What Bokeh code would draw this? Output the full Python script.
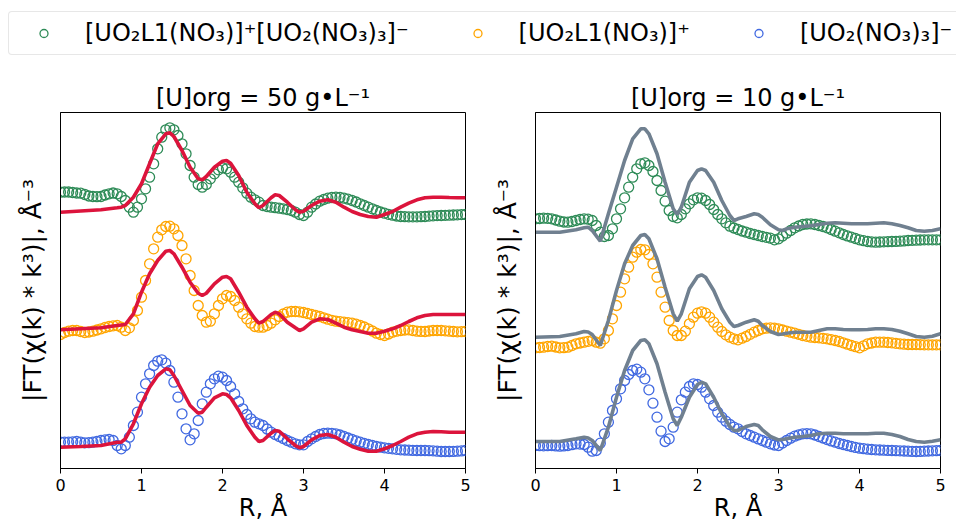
import numpy as np
from bokeh.plotting import figure
from bokeh.models import Range1d, Legend, LegendItem, FixedTicker
from bokeh.layouts import column, row
from bokeh.embed import file_html
from bokeh.resources import INLINE

FONT = "DejaVu Sans"

# ---------------- data (arbitrary units, curves offset vertically) ----------------
LABELS = ["[UO\u2082L1(NO\u2083)]\u207a[UO\u2082(NO\u2083)\u2083]\u207b",
          "[UO\u2082L1(NO\u2083)]\u207a",
          "[UO\u2082(NO\u2083)\u2083]\u207b"]
TITLES = ["[U]org = 50 g\u2022L\u207b\u00b9", "[U]org = 10 g\u2022L\u207b\u00b9"]
X_LABEL = "R, \u00c5"
Y_LABEL = "|FT(\u03c7(k) * k\u00b3)|, \u00c5\u207b\u00b3"
X_TICKS = [0, 1, 2, 3, 4, 5]

# experimental R grid (markers)
R = np.round(np.linspace(0, 5, 101), 2)

# left panel, 50 g/L : experiment
L_GREEN = [276.3, 276.5, 276.5, 276, 275.5, 275.3, 274, 272.5, 272, 271.8,
           272, 273.5, 274.7, 275.5, 274.7, 272, 268, 261.3, 256.3, 261.3,
           269.7, 279.7, 291.3, 304.7, 319.7, 331.3, 338.7, 340.7, 338.7, 333,
           324.7, 314.7, 303, 291.3, 284, 281.3, 284, 289.7, 294.7, 298.7,
           300.7, 299.7, 296.3, 291.3, 286.3, 280.7, 275.3, 271.3, 268.7, 266.3,
           263, 262, 261.3, 260.8, 260.3, 259.7, 259, 258, 256.3, 254,
           253, 256.3, 261.3, 264.5, 267.3, 269, 270.3, 271, 271.3, 271,
           270.3, 269.3, 268, 266.5, 264.7, 263, 261.3, 259.7, 258, 256.5,
           255.3, 254.2, 253.3, 252.5, 252, 251.8, 251.7, 251.7, 251.7, 251.8,
           252, 252.4, 252.7, 252.9, 253, 253.2, 253.3, 253.5, 253.7, 253.9, 254]
L_ORANGE = [134, 136, 137.3, 138, 138, 137, 136, 136.5, 137.3, 138.5,
            139.7, 141, 142, 142.7, 143, 141.3, 138, 140.7, 148, 158,
            171.3, 188, 204.7, 219.7, 231.3, 238.7, 242, 242.3, 239.7, 233,
            223, 209.7, 193, 178, 163, 153, 146.3, 147.3, 154.7, 163,
            169.7, 173, 172, 168, 161.3, 154.7, 149.7, 145.3, 142, 141.3,
            141.3, 143, 145.3, 148.7, 152, 154.5, 156.3, 157, 157, 156.7,
            156, 155, 154, 153, 152, 150.7, 149.3, 148.2, 147.3, 146.8,
            146.3, 145.8, 145.3, 144.3, 143, 141.5, 139.7, 137.5, 135.3, 134,
            133, 134.5, 136.3, 137.3, 138, 138.5, 138.7, 138, 137.3, 137.1,
            137, 137.5, 138, 138, 138, 137.7, 137.3, 137, 136.7, 136.8, 137]
L_BLUE = [26.3, 26.3, 26.3, 26.7, 27, 26.3, 25.7, 25.8, 26.3, 27,
          28, 28.7, 29, 28, 23, 19.7, 23, 31.3, 43, 56.3,
          71.3, 84.7, 94.7, 103, 107.3, 108.7, 105.3, 98, 86.3, 71.3,
          54.7, 39.7, 28.7, 34.7, 48, 64.7, 76.3, 84.7, 89.7, 92.3,
          91.3, 88, 82, 74.7, 67, 59.7, 54, 49.7, 46.3, 44.7,
          43, 39.5, 36.3, 34, 32, 30, 28, 26.3, 24.7, 23.7,
          23.7, 27, 29.7, 32, 34, 35, 35.3, 35.2, 34.7, 33.5,
          32, 30.5, 29, 27.6, 26.3, 25, 24, 23, 22, 21.3,
          20.7, 20.2, 19.7, 19.2, 18.7, 18.5, 18.3, 18.1, 18, 18,
          18, 17.8, 17.7, 17.3, 17, 17, 17, 17.1, 17.3, 17.6, 18]

# left panel : fits
L_FIT_R = [0, 0.25, 0.5, 0.7, 0.75, 0.8, 0.9, 1.0, 1.1, 1.2, 1.3, 1.35, 1.4,
           1.5, 1.6, 1.7, 1.75, 1.8, 1.9, 2.0, 2.05, 2.1,
           2.2, 2.3, 2.4, 2.45, 2.5, 2.6, 2.65, 2.7, 2.8, 2.9, 2.95, 3.0,
           3.1, 3.2, 3.3, 3.4, 3.5, 3.6, 3.7, 3.8, 3.9, 4.0,
           4.1, 4.2, 4.3, 4.4, 4.5, 4.6, 4.7, 4.8, 4.9, 5.0]
L_FIT_TOP = [256.3, 257.5, 258.7, 260.7, 261.3, 263, 271.3, 284.7, 304.7, 324.7, 334.7, 335.7, 332,
             318, 301.3, 289.7, 288.7, 292, 301.3, 307.3, 308, 305.3,
             293, 276.3, 264.7, 260.7, 263, 270.7, 273.7, 273, 266.3, 258.7, 256.3, 257.3,
             263, 267.3, 268.7, 266.3, 261.3, 257, 254, 252, 251.3, 254,
             257, 261.3, 265.3, 268.7, 270.7, 271.3, 271.3, 271, 270.8, 270.7]
L_FIT_MID = [138.7, 139.7, 140.7, 143, 143.5, 144, 154.7, 176.3, 194.7, 208, 217.3, 218, 214.7,
             201.3, 186.3, 175.3, 173, 175.3, 184.7, 191.3, 192, 189.7,
             176.3, 161.3, 149.7, 145.3, 147, 154, 156.3, 154.7, 146.3, 140.7, 138, 139.7,
             146.3, 149.7, 149, 145.3, 141.3, 138.7, 137, 135.3, 135.3, 137.3,
             139.7, 143, 147, 150.7, 153, 154, 154, 154, 154, 154]
L_FIT_BOT = [21.3, 22, 23, 26.3, 26.3, 29.7, 44.7, 64.7, 81.3, 93, 99.7, 98.7, 93,
             78, 63, 55.3, 56.3, 61.3, 70.7, 74.7, 74, 70.7,
             58, 43, 31.3, 27, 28, 35.3, 38, 37.3, 29.7, 23, 20.7, 22,
             28.7, 33, 34, 31.3, 26.3, 22, 19.3, 17.3, 17.3, 19.7,
             23, 27, 31.3, 34.7, 36.3, 37, 36.7, 36.3, 36.3, 36.3]

# right panel, 10 g/L : experiment
R_GREEN = [249.7, 250, 250.3, 250.2, 249.7, 248.5, 247.3, 246.5, 246.3, 247,
           248, 249, 249.7, 249.3, 248, 243, 236.3, 232, 233, 239.7,
           249.7, 259.7, 270.7, 281.3, 291.3, 299.7, 304.7, 305.7, 303, 297,
           288, 278, 267.3, 258, 252, 250.7, 254, 259.7, 264.7, 268.7,
           270.7, 270.3, 268, 264, 259, 254, 249.7, 245.7, 242.3, 240.5,
           239, 237.5, 236.3, 235, 234, 233, 232, 231.2, 230.3, 228.7,
           229.7, 232.5, 235.3, 238, 240.7, 242.5, 244, 244.5, 244.7, 244,
           243, 242, 240.7, 239, 237.3, 235.7, 234, 232.6, 231.3, 230,
           228.7, 227.8, 227, 226.6, 226.3, 226.5, 226.7, 226.8, 227, 227.1,
           227.3, 227.6, 228, 228.2, 228.3, 228.5, 228.7, 228.7, 228.7, 228.7, 228.7]
R_ORANGE = [120.7, 121, 121.3, 122, 122.3, 121.5, 120.7, 120.8, 121.3, 123,
            124.7, 125.5, 126.3, 127.2, 128, 126.3, 125.3, 129.7, 138, 149.7,
            163, 176.3, 189.7, 201.3, 211.3, 216.3, 219, 218.7, 214, 204.7,
            191.3, 176.3, 161.3, 148, 138, 133, 133, 137.3, 144.7, 151.3,
            155.3, 156.7, 155.3, 151.3, 146.3, 141.3, 137, 133.7, 131.3, 129.7,
            128.7, 130.3, 132, 134.2, 136.3, 138, 139.7, 140.3, 140.7, 140.3,
            139.7, 138.5, 137.3, 136.3, 135.3, 134.2, 133, 132.2, 131.3, 131,
            130.7, 130.2, 129.7, 128.8, 128, 127, 125.7, 124.3, 123, 121.8,
            120.7, 122.7, 124.7, 125.5, 126.3, 126.3, 126.3, 126, 125.7, 125.2,
            124.7, 124.3, 124, 124, 124, 123.8, 123.7, 123.7, 123.7, 123.7, 123.7]
R_BLUE = [23, 22.8, 22.7, 22.8, 23, 22.6, 22.3, 22.6, 23, 23.8,
          24.7, 24.4, 24, 21.3, 17.3, 18, 25.3, 34.7, 46.3, 58,
          69.7, 79.7, 88, 94, 98, 99.3, 96.3, 89.7, 78.7, 65.3,
          51.3, 37.3, 27, 29.7, 41.3, 56.3, 68.7, 76.3, 82, 84.7,
          84, 81.3, 76.3, 69.7, 63, 56.3, 51.3, 47.3, 44, 41.3,
          39.7, 37, 34.7, 33, 31.3, 29.6, 28, 26.3, 24.7, 23.5,
          23, 25.5, 28, 30.3, 32.3, 33.7, 34.7, 34.8, 34.7, 33.5,
          32, 30.5, 29, 27.6, 26.3, 25, 24, 23, 22, 21.1,
          20.3, 19.8, 19.3, 19, 18.7, 18.5, 18.3, 18.1, 18, 17.8,
          17.7, 17.5, 17.3, 17.1, 17, 17.1, 17.3, 17.5, 17.7, 17.8, 18]

# right panel : fits
R_FIT_R = [0, 0.3, 0.5, 0.6, 0.65, 0.7, 0.8, 0.9, 1.0, 1.1, 1.2, 1.3, 1.35, 1.4,
           1.5, 1.6, 1.7, 1.75, 1.8, 1.9, 2.0, 2.05, 2.1,
           2.2, 2.3, 2.4, 2.45, 2.5, 2.6, 2.7, 2.75, 2.8, 2.9,
           3.0, 3.05, 3.1, 3.2, 3.3, 3.4, 3.5, 3.6, 3.7, 3.8, 3.9, 4.0,
           4.1, 4.2, 4.3, 4.4, 4.5, 4.6, 4.7, 4.8, 4.9, 5.0]
R_FIT_TOP = [236.3, 236.3, 238.7, 240.7, 241.3, 238, 227.3, 254.7, 281.3, 308, 329.7, 339.7, 339.7, 334.7,
             314.7, 286.3, 259.7, 254, 261.3, 286.3, 298, 299.7, 298,
             286.3, 268, 253, 248, 249.7, 252, 254.7, 254, 251.3, 243.7,
             238.7, 238, 239.7, 241.3, 242, 242.7, 244, 245.3, 245.7, 245.3, 244.7, 244.7,
             244.7, 245.3, 245.7, 244.7, 243, 240.7, 238, 237.3, 238, 239.7]
R_FIT_MID = [131.3, 132, 134.7, 137, 136.5, 134, 123, 148, 178, 204.7, 223, 233, 234, 229.7,
             209.7, 181.3, 154.7, 147.3, 154.7, 179.7, 192, 193.7, 191.3,
             178, 159.7, 146.3, 142, 143, 146.3, 148.7, 147.3, 143, 137,
             134, 134.5, 135.3, 136.3, 136.3, 136.3, 138, 139.7, 139.7, 139, 138.7, 138.7,
             139, 139.7, 139.7, 139, 137.3, 134.7, 132, 131.3, 132.3, 134.7]
R_FIT_BOT = [27, 27, 29.7, 31.3, 30.5, 28, 18, 41.3, 71.3, 98, 118, 128, 128.7, 124.7,
             104.7, 76.3, 49.7, 43, 51.3, 71.3, 84, 86.3, 84.7,
             71.3, 54.7, 42, 38, 38, 42, 44, 43, 38.7, 32,
             28.7, 29, 29.7, 31.3, 32, 33, 34.7, 35.3, 35.3, 34.7, 34.7, 34.7,
             34.7, 35.3, 35.3, 34, 32, 29, 27, 26.3, 27.3, 28.7]

MARKER_COLORS = ["seagreen", "orange", "royalblue"]
FIT_COLORS = ["crimson", "slategray"]


def make_panel(title, exp_series, fit_r, fit_series, fit_color, width, border_left, border_right):
    p = figure(width=width, height=456, x_range=Range1d(0, 5), y_range=Range1d(0, 356),
               output_backend="svg", toolbar_location=None,
               min_border_left=border_left, min_border_right=border_right,
               min_border_top=42, min_border_bottom=58)
    p.title.text = title
    p.title.align = "center"
    p.title.text_font = FONT
    p.title.text_font_size = "24px"
    p.title.text_font_style = "normal"
    p.title.text_color = "black"
    p.title.standoff = 2
    p.grid.visible = False
    p.outline_line_color = "black"
    p.outline_line_width = 1
    p.background_fill_color = "white"
    p.border_fill_color = "white"

    xa = p.xaxis[0]
    xa.ticker = FixedTicker(ticks=X_TICKS)
    xa.major_tick_out = 5
    xa.major_tick_in = 0
    xa.minor_tick_line_color = None
    xa.major_label_text_font = FONT
    xa.major_label_text_font_size = "16px"
    xa.major_label_text_color = "black"
    xa.major_label_standoff = 5
    xa.axis_label = X_LABEL
    xa.axis_label_text_font = FONT
    xa.axis_label_text_font_size = "24px"
    xa.axis_label_text_font_style = "normal"
    xa.axis_label_text_color = "black"
    xa.axis_label_standoff = 0
    xa.axis_line_color = "black"

    ya = p.yaxis[0]
    ya.ticker = FixedTicker(ticks=[])
    ya.major_tick_out = 0
    ya.major_tick_in = 0
    ya.minor_tick_line_color = None
    ya.major_label_text_font_size = "0px"
    ya.axis_label = Y_LABEL
    ya.axis_label_text_font = FONT
    ya.axis_label_text_font_size = "25px"
    ya.axis_label_text_font_style = "normal"
    ya.axis_label_text_color = "black"
    ya.axis_label_standoff = 14
    ya.axis_line_color = "black"

    for ys, fy, mc in zip(exp_series, fit_series, MARKER_COLORS):
        p.scatter(R, ys, marker="circle", size=10, fill_color=None,
                  line_color=mc, line_width=1.3)
        p.line(fit_r, fy, line_color=fit_color, line_width=3.6)
    return p


p1 = make_panel(TITLES[0], [L_GREEN, L_ORANGE, L_BLUE], L_FIT_R,
                [L_FIT_TOP, L_FIT_MID, L_FIT_BOT], FIT_COLORS[0], 482, 60, 17)
p2 = make_panel(TITLES[1], [R_GREEN, R_ORANGE, R_BLUE], R_FIT_R,
                [R_FIT_TOP, R_FIT_MID, R_FIT_BOT], FIT_COLORS[1], 474, 53, 16)

# legend strip (legend swatches use a NaN point so nothing shows in the strip itself)
lf = figure(width=956, height=70, x_range=Range1d(0, 1), y_range=Range1d(0, 1),
            output_backend="svg", toolbar_location=None,
            x_axis_type=None, y_axis_type=None,
            min_border_left=0, min_border_right=0, min_border_top=0, min_border_bottom=0)
lf.grid.visible = False
lf.outline_line_color = None
items = []
for lab, mc in zip(LABELS, MARKER_COLORS):
    r = lf.scatter(x=[float("nan")], y=[float("nan")], marker="circle", size=10,
                   fill_color=None, line_color=mc, line_width=1.3)
    items.append(LegendItem(label=lab, renderers=[r]))
leg = Legend(items=items, orientation="horizontal", location=(8, 15),
             label_text_font=FONT, label_text_font_size="24px", label_text_color="black",
             glyph_width=55, glyph_height=20, label_standoff=14, spacing=41,
             padding=7, margin=0, border_line_color="#d0d0d0", border_line_width=1.2,
             background_fill_color="white", background_fill_alpha=1.0)
if "border_radius" in Legend.properties():
    leg.border_radius = 4
lf.add_layout(leg, "center")

layout = column(lf, row(p1, p2))
open("out.html", "w").write(file_html(layout, INLINE))
